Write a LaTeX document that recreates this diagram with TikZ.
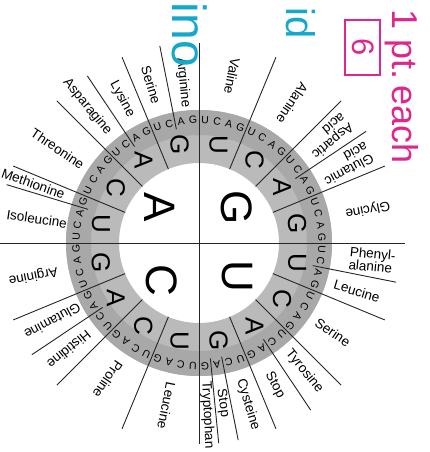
\documentclass[tikz,border=0pt]{standalone}
\usepackage{fontspec}
\setmainfont{Liberation Sans}
\definecolor{penpink}{RGB}{222,38,140}
\definecolor{pencyan}{RGB}{20,168,205}

\begin{document}
\begin{tikzpicture}[x=1pt, y=1pt,
	spoke/.style={line width=0.9pt, black!85},
	big/.style={font=\fontsize{44}{44}\selectfont, rotate=-90, inner sep=0pt},
	second/.style={font=\fontsize{26}{26}\selectfont, rotate=-90, inner sep=0pt},
	third/.style={font=\fontsize{10.5}{10.5}\selectfont, inner sep=0pt},
	aa/.style={font=\fontsize{13.5}{13}\selectfont, inner sep=0pt, align=left},
	pen/.style={inner sep=0pt, rotate=-90}]
	\useasboundingbox (-199,-209) rectangle (231,243);
	\fill[white] (-199,-209) rectangle (231,243);

	% Кольцо
	\fill[black!27, even odd rule] (0,0) circle (133) (0,0) circle (80);
	\fill[black!34, even odd rule] (0,0) circle (133) (0,0) circle (108);

	% Оси
	\draw[spoke] (-205,0) -- (206,0);
	\draw[spoke] (0,-201) -- (0,200);

	% Спицы
	\foreach \a in {-22.5,-45,-67.5,-112.5,-135,-157.5,157.5,135,112.5,67.5,45,22.5}
		\draw[spoke] (\a:80) -- (\a:201);
	\foreach \a in {-11.25,-56.25,-78.75,-84.375,-146.25,163.125,123.75,101.25,33.75}
		\draw[spoke] (\a:116) -- (\a:201);

	% Первая буква
	\node[big] (fU) at (38,-33) {U};
	\node[big] (fC) at (-37,-37) {C};
	\node[big] (fA) at (-39,36) {A};
	\node[big] (fG) at (38,35) {G};

	% Вторая и третья буквы
	\foreach \f [count=\i from 0] in {U,C,A,G} {
		\foreach \s [count=\j from 0] in {U,C,A,G} {
			\pgfmathsetmacro\sa{-(\i*90+\j*22.5+11.25)}
			\node[second] (s\i\j) at (\sa:100) {\s};
			\foreach \t [count=\k from 0] in {U,C,A,G} {
				\pgfmathsetmacro\ta{-(\i*90+\j*22.5+(\k+0.5)*5.625)}
				\node[third, rotate=\ta-90] (t\i\j\k) at (\ta:123) {\t};
			}
		}
	}

	% Аминокислоты
	\foreach \a/\r/\txt [count=\n] in {
		78.75/170/Valine, 56.25/168/Alanine, 39.375/168/{Aspartic\\acid},
		28.125/167/{Glutamic\\acid}, 11.25/172/Glycine,
		-5.625/174/{Phenyl-\\alanine}, -16.875/165/Leucine, -33.75/161/Serine,
		-50.625/166/Tyrosine, -61.875/161/Stop, -73.125/169/Cysteine,
		-81.5625/162/Stop, -87.1875/172/Tryptophan,
		-101.25/166/Leucine, -123.75/164/Proline, -140.625/168/Histidine,
		-151.875/166/Glutamine, -168.75/169/Arginine,
		171.5625/164/Isoleucine, 160.3125/176/Methionine, 146.25/170/Threonine,
		129.375/176/Asparagine, 118.125/163/Lysine, 106.875/165/Serine,
		95.625/161/Arginine} {
		\pgfmathsetmacro\rot{\a>0 ? \a-180 : \a}
		\node[aa, rotate=\rot] (aa\n) at (\a:\r) {\txt};
	}

	% Пометки
	\node[pen, text=penpink, font=\fontsize{36}{36}\selectfont, anchor=mid west] (note) at (196,234) {1 pt.\,each};
	\draw[penpink, line width=1.6pt] (146,223) rectangle (181,168);
	\node[pen, text=penpink, font=\fontsize{31}{31}\selectfont] (score) at (164,195.5) {6};
	\node[pen, text=pencyan, font=\fontsize{40}{40}\selectfont, anchor=mid east] (acid) at (90,204) {id};
	\node[pen, text=pencyan, font=\fontsize{48}{48}\selectfont, anchor=mid east] (amino) at (-24,176) {ino};
\end{tikzpicture}
\end{document}
